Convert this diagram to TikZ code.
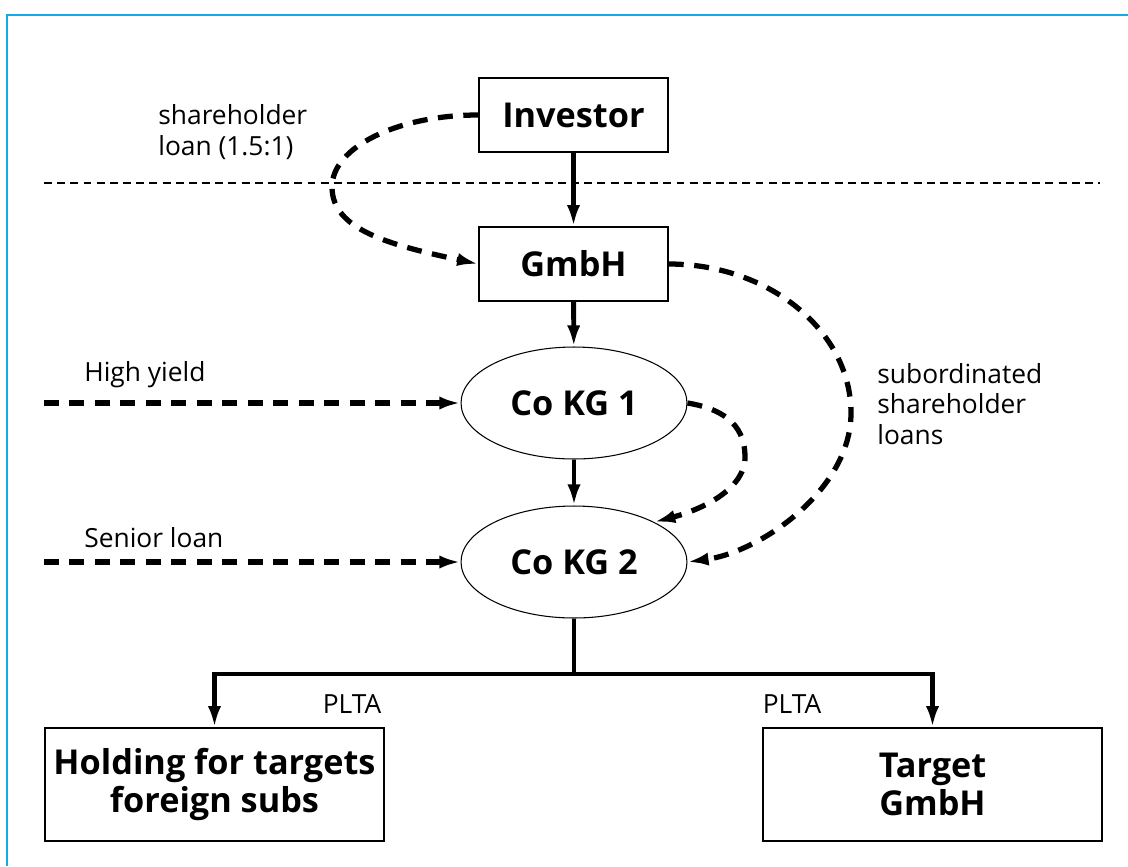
\documentclass[tikz,border=0pt]{standalone}
\usepackage{fontspec}
\setmainfont{Open Sans}
\usetikzlibrary{shapes.geometric,arrows.meta,calc}
\definecolor{framecyan}{RGB}{20,170,230}
\tikzset{
	box/.style={draw, line width=0.9pt, minimum width=3.78cm, minimum height=1.48cm, inner sep=0pt,
		align=center, font=\fontsize{19.5}{22}\selectfont\bfseries},
	oval/.style={draw, ellipse, line width=0.6pt, minimum width=4.52cm, minimum height=2.24cm, inner sep=0pt,
		font=\fontsize{19.5}{22}\selectfont\bfseries},
	lbl/.style={align=left, inner sep=0pt, font=\fontsize{15}{17.5}\selectfont},
	own/.style={line width=2.8pt, -{Latex[length=12pt,width=7.5pt]}},
	loan/.style={line width=3pt, dash pattern=on 8.5pt off 6pt, -{Latex[length=12pt,width=7.5pt]}}
}
\begin{document}
\begin{tikzpicture}[x=0.02cm, y=-0.02cm, line join=miter]
			\useasboundingbox (0,0) rectangle (1128,866);
			\draw[framecyan, line width=1.1pt] (7,866)--(7,15)--(1128,15);
			\draw[line width=1.3pt, dash pattern=on 4.5pt off 3pt] (44,183)--(1100,183);
			\node[box] (inv) at (573.5,115) {Investor};
			\node[box] (gmbh) at (573.5,264) {GmbH};
			\node[oval] (kg1) at (574,403) {Co KG 1};
			\node[oval] (kg2) at (574,562) {Co KG 2};
			\node[box, minimum width=6.78cm, minimum height=2.26cm] (hold) at (214.5,784.5) {Holding for targets\\foreign subs};
			\node[box, minimum width=6.78cm, minimum height=2.26cm] (tgt) at (932.5,784.5) {Target\\GmbH};
			\foreach \x\y\t in {44/403/hy,44/562/sl,574/674/bus}
			\coordinate (\t) at (\x,\y);
			\draw[own] (inv)--(gmbh);
			\draw[own] (gmbh)--(kg1);
			\draw[own] (kg1)--(kg2);
			\draw[line width=2.8pt] (kg2)--(bus);
			\draw[own] (bus)-|(hold);
			\draw[own] (bus)-|(tgt);
			\draw[loan] (hy)--(kg1);
			\draw[loan] (sl)--(kg2);
			\draw[loan] (inv.west) .. controls (398,115) and (332,147) .. (332,187)
				.. controls (332,230) and (390,245) .. (gmbh.west);
			\draw[loan] (gmbh.east) .. controls (769,264) and (851,331) .. (851,413)
				.. controls (851,490) and (760,552) .. (kg2.east);
			\draw[loan] (kg1.east) .. controls (730,410) and (745,430) .. (745,457)
				.. controls (745,490) and (700,510) .. (kg2.north east);
			\node[lbl, anchor=west] (shl) at (158,132) {shareholder\\loan (1.5:1)};
			\node[lbl, anchor=west] (hyl) at (84,375) {High yield};
			\node[lbl, anchor=west] (sll) at (84,538) {Senior loan};
			\node[lbl, anchor=west] (sub) at (877,404) {subordinated\\shareholder\\loans};
			\node[lbl] (plta1) at (352,704) {PLTA};
			\node[lbl] (plta2) at (792,704) {PLTA};
		\end{tikzpicture}
\end{document}
